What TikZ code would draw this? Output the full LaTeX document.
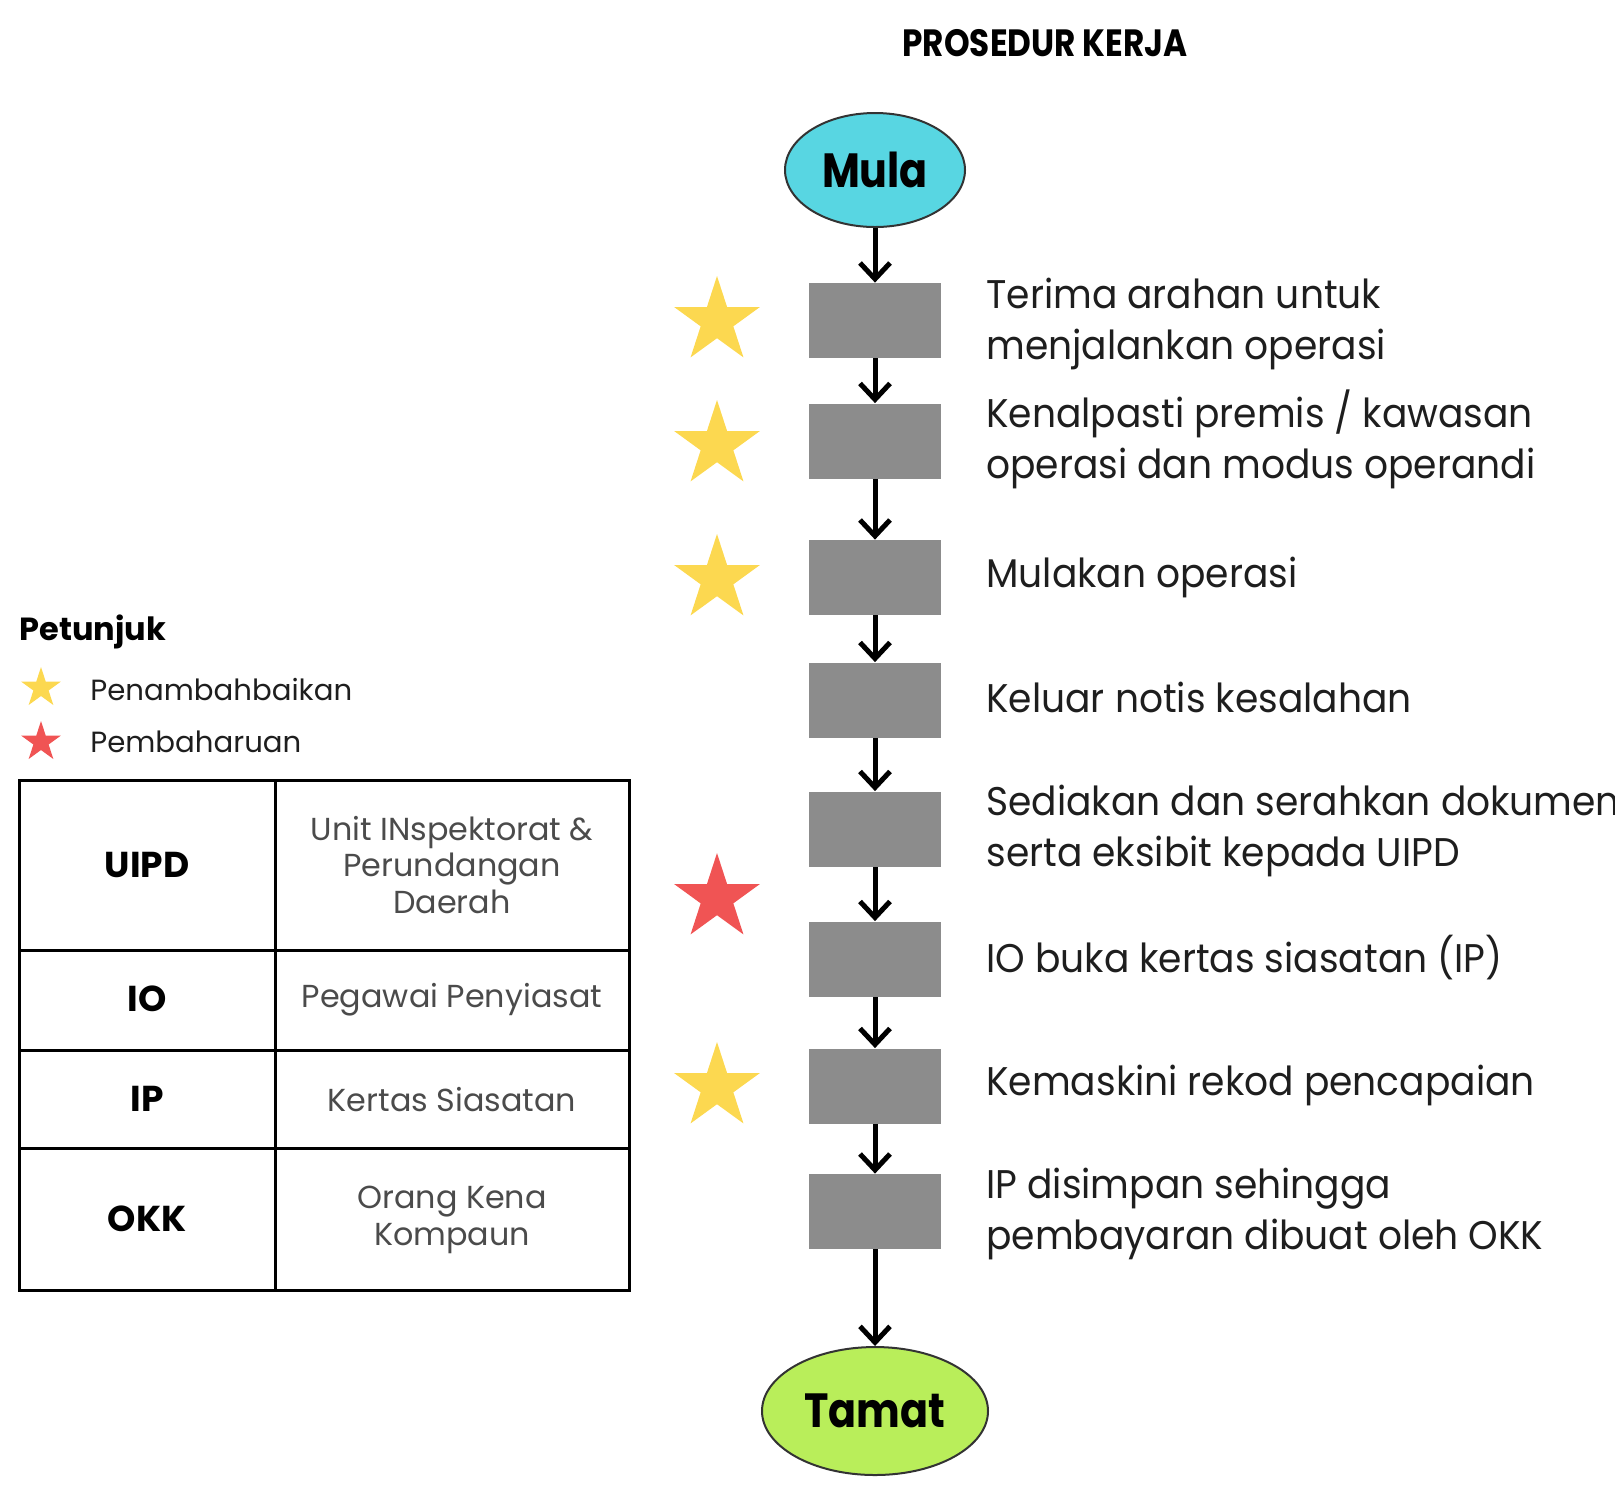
\documentclass[tikz,border=0pt]{standalone}
\usepackage{fontspec}
\setmainfont{Poppins}
\newfontfamily\stepfont[FakeStretch=0.94]{Poppins}
\newfontfamily\termfont[FakeStretch=0.86]{Poppins}
\usetikzlibrary{shapes.geometric,arrows.meta}
\definecolor{boxgray}{RGB}{140,140,140}
\definecolor{mulacyan}{RGB}{88,214,226}
\definecolor{tamatgreen}{RGB}{185,238,90}
\definecolor{staryellow}{RGB}{252,216,80}
\definecolor{starred}{RGB}{240,84,84}
\definecolor{textdark}{RGB}{30,30,30}
\definecolor{tablegray}{RGB}{75,75,75}
\begin{document}
\begin{tikzpicture}[x=0.5pt,y=-0.5pt,
  stepbox/.style={rectangle, fill=boxgray, minimum width=66pt, minimum height=37.5pt, inner sep=0pt},
  termnode/.style={ellipse, draw=black!80, line width=1pt, inner sep=0pt, font=\termfont\bfseries\fontsize{24}{26}\selectfont},
  flow/.style={line width=2.5pt, -{Straight Barb[length=8pt,width=15pt]}},
  steptext/.style={anchor=west, align=left, font=\stepfont\fontsize{20}{25.5}\selectfont, text=textdark, inner sep=0pt},
  bigstar/.style={star, star points=5, star point ratio=2.618, minimum size=45pt, inner sep=0pt},
  smallstar/.style={star, star points=5, star point ratio=2.618, minimum size=21pt, inner sep=0pt},
  abbr/.style={font=\bfseries\fontsize{18}{20}\selectfont, text=black},
  meaning/.style={align=center, font=\fontsize{15.9}{18.25}\selectfont, text=tablegray},
  legtext/.style={anchor=west, inner sep=0pt, font=\fontsize{14.6}{18}\selectfont, text=textdark},
  tline/.style={line width=1.5pt, draw=black}
]
\useasboundingbox (0,0) rectangle (1615,1485);

% title
\node[font=\termfont\bfseries\fontsize{19}{20}\selectfont] (title) at (1045,43) {PROSEDUR KERJA};

% flow
\node[termnode, fill=mulacyan, minimum width=90pt, minimum height=57pt] (mula) at (875,170) {Mula};
\node[stepbox] (s1) at (875,320.5) {};
\node[stepbox] (s2) at (875,441) {};
\node[stepbox] (s3) at (875,577.5) {};
\node[stepbox] (s4) at (875,700) {};
\node[stepbox] (s5) at (875,829) {};
\node[stepbox] (s6) at (875,959) {};
\node[stepbox] (s7) at (875,1086) {};
\node[stepbox] (s8) at (875,1211.5) {};
\node[termnode, fill=tamatgreen, minimum width=113pt, minimum height=64pt] (tamat) at (875,1411) {Tamat};

\draw[flow] (mula) -- (s1);
\draw[flow] (s1) -- (s2);
\draw[flow] (s2) -- (s3);
\draw[flow] (s3) -- (s4);
\draw[flow] (s4) -- (s5);
\draw[flow] (s5) -- (s6);
\draw[flow] (s6) -- (s7);
\draw[flow] (s7) -- (s8);
\draw[flow] (s8) -- (tamat);

% step texts
\node[steptext] (t1) at (986,324) {Terima arahan untuk\\menjalankan operasi};
\node[steptext] (t2) at (986,439) {Kenalpasti premis / kawasan\\operasi dan modus operandi};
\node[steptext] (t3) at (986,577) {Mulakan operasi};
\node[steptext] (t4) at (986,697) {Keluar notis kesalahan};
\node[steptext] (t5) at (986,831) {Sediakan dan serahkan dokumen\\serta eksibit kepada UIPD};
\node[steptext] (t6) at (986,958) {IO buka kertas siasatan (IP)};
\node[steptext] (t7) at (986,1085) {Kemaskini rekod pencapaian};
\node[steptext] (t8) at (986,1214) {IP disimpan sehingga\\pembayaran dibuat oleh OKK};

% stars by the steps
\node[bigstar, fill=staryellow] (st1) at (717,321) {};
\node[bigstar, fill=staryellow] (st2) at (717,445) {};
\node[bigstar, fill=staryellow] (st3) at (717,579) {};
\node[bigstar, fill=starred] (st4) at (717,898) {};
\node[bigstar, fill=staryellow] (st5) at (717,1087) {};

% legend
\node[anchor=west, inner sep=0pt, font=\bfseries\fontsize{16}{18}\selectfont] (petunjuk) at (19,632) {Petunjuk};
\node[smallstar, fill=staryellow] (ly) at (41,688) {};
\node[smallstar, fill=starred] (lr) at (41,742) {};
\node[legtext] (lyt) at (90,690) {Penambahbaikan};
\node[legtext] (lrt) at (90,742) {Pembaharuan};

% table
\draw[tline] (19,780) rectangle (629,1290);
\draw[tline] (275,780) -- (275,1290);
\draw[tline] (19,950) -- (629,950);
\draw[tline] (19,1050) -- (629,1050);
\draw[tline] (19,1148) -- (629,1148);

\node[abbr] (a1) at (147,865) {UIPD};
\node[abbr] (a2) at (147,999) {IO};
\node[abbr] (a3) at (147,1099) {IP};
\node[abbr] (a4) at (147,1219) {OKK};
\node[meaning] (m1) at (452,865) {Unit INspektorat \&\\Perundangan\\Daerah};
\node[meaning] (m2) at (452,1000) {Pegawai Penyiasat};
\node[meaning] (m3) at (452,1100) {Kertas Siasatan};
\node[meaning] (m4) at (452,1220) {Orang Kena\\Kompaun};
\end{tikzpicture}
\end{document}
